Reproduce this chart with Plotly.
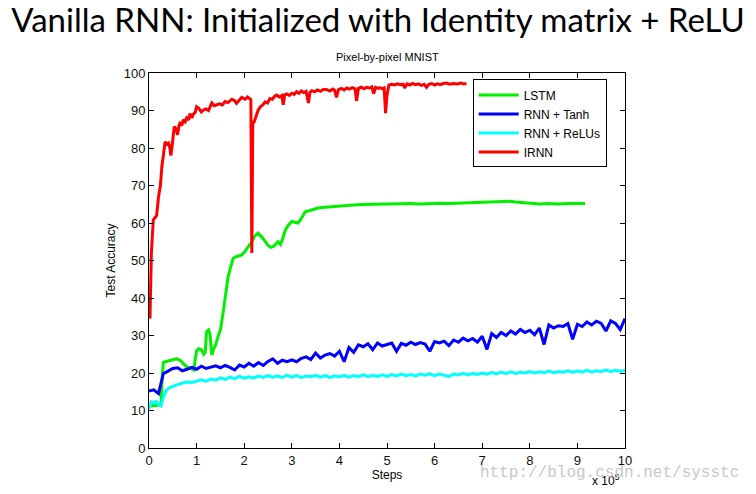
import plotly.graph_objects as go

# ---------------- data (steps in units of 1e5) ----------------
series_names = ["LSTM", "RNN + Tanh", "RNN + ReLUs", "IRNN"]
series_colors = ["#00f000", "#0000ff", "#00ffff", "#ff0000"]

x_ticks = [0, 1, 2, 3, 4, 5, 6, 7, 8, 9, 10]
y_ticks = [0, 10, 20, 30, 40, 50, 60, 70, 80, 90, 100]

lstm_x = [0.00, 0.05, 0.10, 0.15, 0.20, 0.25, 0.27, 0.30, 0.34, 0.40,
          0.46, 0.52, 0.58, 0.62, 0.67, 0.72, 0.79, 0.85, 0.90, 0.94,
          0.97, 1.00, 1.05, 1.10, 1.15, 1.18, 1.21, 1.25, 1.28, 1.32,
          1.36, 1.40, 1.45, 1.50, 1.55, 1.60, 1.66, 1.72, 1.77, 1.83,
          1.90, 1.95, 2.02, 2.08, 2.16, 2.22, 2.29, 2.35, 2.42, 2.50,
          2.56, 2.62, 2.68, 2.71, 2.76, 2.80, 2.86, 2.93, 3.00, 3.06,
          3.13, 3.20, 3.28, 3.35, 3.45, 3.55, 3.70, 3.85, 4.00, 4.12,
          4.30, 4.50, 4.70, 4.90, 5.10, 5.30, 5.50, 5.70, 5.90, 6.10,
          6.30, 6.50, 6.70, 6.90, 7.10, 7.30, 7.45, 7.58, 7.70, 7.85,
          8.00, 8.20, 8.40, 8.60, 8.80, 9.00, 9.16]
lstm_y = [11.5, 11.2, 11.4, 11.3, 11.5, 11.6, 17.0, 22.8, 23.0, 23.2,
          23.4, 23.5, 23.8, 23.6, 23.2, 22.5, 21.7, 21.4, 21.0, 20.8,
          23.5, 26.0, 26.5, 26.2, 25.0, 25.5, 31.0, 31.5, 30.5, 24.8,
          26.5, 27.5, 29.7, 31.5, 35.5, 40.4, 45.5, 48.5, 50.6, 51.0,
          51.3, 51.5, 52.5, 53.5, 55.0, 56.5, 57.3, 56.5, 55.5, 54.0,
          53.5, 53.8, 54.8, 55.0, 54.3, 55.5, 58.0, 59.5, 60.4, 60.2,
          60.0, 61.2, 63.0, 63.2, 63.6, 64.0, 64.2, 64.4, 64.5, 64.7,
          64.8, 64.9, 65.0, 65.1, 65.0, 65.1, 65.2, 65.1, 65.2, 65.3,
          65.2, 65.3, 65.4, 65.3, 65.4, 65.5, 65.6, 65.8, 65.6, 65.5,
          65.3, 65.1, 65.2, 65.1, 65.2, 65.3, 65.2]

tanh_x = [0.0, 0.1, 0.2, 0.3, 0.4, 0.5, 0.6, 0.7, 0.8, 0.9,
          1.0, 1.1, 1.2, 1.3, 1.4, 1.5, 1.6, 1.7, 1.8, 1.9,
          2.0, 2.1, 2.2, 2.3, 2.4, 2.5, 2.6, 2.7, 2.8, 2.9,
          3.0, 3.1, 3.2, 3.3, 3.4, 3.5, 3.6, 3.7, 3.8, 3.9,
          4.0, 4.1, 4.2, 4.3, 4.4, 4.5, 4.6, 4.7, 4.8, 4.9,
          5.0, 5.1, 5.2, 5.3, 5.4, 5.5, 5.6, 5.7, 5.8, 5.9,
          6.0, 6.1, 6.2, 6.3, 6.4, 6.5, 6.6, 6.7, 6.8, 6.9,
          7.0, 7.1, 7.2, 7.3, 7.4, 7.5, 7.6, 7.7, 7.8, 7.9,
          8.0, 8.1, 8.2, 8.3, 8.4, 8.5, 8.6, 8.7, 8.8, 8.9,
          9.0, 9.1, 9.2, 9.3, 9.4, 9.5, 9.6, 9.7, 9.8, 9.9,
          10.0]
tanh_y = [15.2, 15.5, 14.5, 19.8, 20.5, 21.2, 21.4, 20.6, 21.0, 21.5,
          21.0, 21.8, 21.2, 21.6, 21.9, 21.4, 22.0, 21.5, 20.8, 22.1,
          21.6, 22.6, 21.8, 22.8, 22.0, 23.1, 23.8, 22.6, 23.4, 23.0,
          23.5, 23.0, 23.9, 24.3, 23.6, 25.3, 24.0, 24.8, 25.2, 24.5,
          25.8, 23.0, 26.8, 25.5, 27.5, 27.0, 27.8, 26.2, 28.0, 27.2,
          27.6, 28.0, 25.8, 27.9, 27.4, 28.2, 27.6, 28.1, 27.7, 25.8,
          28.4, 28.0, 28.5, 27.3, 28.8, 28.2, 29.3, 28.6, 29.2, 28.2,
          29.8, 26.3, 30.5, 29.5, 30.8, 30.0, 31.2, 30.4, 31.6, 30.8,
          31.4, 30.2, 32.0, 27.6, 32.8, 32.0, 32.6, 32.4, 33.2, 29.0,
          33.0, 32.4, 33.6, 32.8, 33.8, 33.2, 31.2, 33.9, 33.2, 31.6,
          34.5]

relu_x = [0.00, 0.05, 0.10, 0.15, 0.20, 0.25, 0.30, 0.37, 0.45, 0.52,
          0.60, 0.70, 0.80, 0.90,
          1.0, 1.1, 1.2, 1.3, 1.4, 1.5, 1.6, 1.7, 1.8, 1.9,
          2.0, 2.1, 2.2, 2.3, 2.4, 2.5, 2.6, 2.7, 2.8, 2.9,
          3.0, 3.1, 3.2, 3.3, 3.4, 3.5, 3.6, 3.7, 3.8, 3.9,
          4.0, 4.1, 4.2, 4.3, 4.4, 4.5, 4.6, 4.7, 4.8, 4.9,
          5.0, 5.1, 5.2, 5.3, 5.4, 5.5, 5.6, 5.7, 5.8, 5.9,
          6.0, 6.1, 6.2, 6.3, 6.4, 6.5, 6.6, 6.7, 6.8, 6.9,
          7.0, 7.1, 7.2, 7.3, 7.4, 7.5, 7.6, 7.7, 7.8, 7.9,
          8.0, 8.1, 8.2, 8.3, 8.4, 8.5, 8.6, 8.7, 8.8, 8.9,
          9.0, 9.1, 9.2, 9.3, 9.4, 9.5, 9.6, 9.7, 9.8, 9.9,
          10.0]
relu_y = [10.5, 12.3, 12.0, 12.4, 11.5, 11.2, 13.5, 15.5, 16.2, 16.6,
          16.9, 17.3, 17.6, 17.5,
          17.9, 18.2, 17.8, 18.4, 18.1, 18.7, 18.3, 18.9, 18.5, 19.1,
          18.6, 19.0, 18.7, 19.2, 18.8, 19.3, 18.9, 19.2, 18.8, 19.4,
          18.9, 19.3, 18.8, 19.2, 19.0, 19.4, 18.9, 19.3, 18.8, 19.2,
          19.0, 19.4, 18.9, 19.3, 19.0, 19.5, 19.0, 19.4, 19.1, 19.5,
          19.1, 19.6, 19.2, 19.7, 19.3, 19.6, 19.2, 19.7, 19.4, 19.8,
          19.3, 19.7, 19.4, 19.1, 19.7, 19.5, 19.9, 19.5, 19.9, 19.6,
          20.0, 19.7, 20.1, 19.8, 20.2, 19.9, 20.3, 19.9, 20.2, 20.0,
          20.4, 20.0, 20.3, 20.1, 20.5, 20.1, 20.4, 20.2, 20.6, 20.2,
          20.5, 20.3, 20.7, 20.3, 20.6, 20.4, 20.8, 20.4, 20.7, 20.5,
          20.7]

irnn_x = [0.02, 0.05, 0.09, 0.13, 0.16, 0.20, 0.24, 0.27, 0.31, 0.34,
          0.37, 0.41, 0.44, 0.46, 0.49, 0.53, 0.57, 0.60, 0.63, 0.65,
          0.69, 0.72, 0.76, 0.79, 0.83, 0.86, 0.90, 0.93, 0.97, 1.00,
          1.05, 1.10, 1.15, 1.20, 1.25, 1.32, 1.37, 1.42, 1.48, 1.54,
          1.60, 1.66, 1.74, 1.80, 1.84, 1.90, 1.95, 2.02, 2.07, 2.11,
          2.14, 2.16, 2.18, 2.21, 2.25, 2.29, 2.34, 2.39, 2.44, 2.49,
          2.54, 2.59, 2.64, 2.68, 2.74, 2.79, 2.82, 2.85, 2.89, 2.95,
          3.00, 3.05, 3.10, 3.15, 3.20, 3.25, 3.30, 3.35, 3.38, 3.42,
          3.48, 3.54, 3.60, 3.66, 3.73, 3.80, 3.86, 3.90, 3.94, 3.98,
          4.04, 4.10, 4.15, 4.21, 4.27, 4.33, 4.36, 4.40, 4.46, 4.52,
          4.57, 4.63, 4.68, 4.72, 4.76, 4.81, 4.85, 4.90, 4.94, 4.97,
          5.00, 5.04, 5.10, 5.16, 5.22, 5.28, 5.34, 5.37, 5.42, 5.48,
          5.54, 5.60, 5.66, 5.72, 5.78, 5.83, 5.88, 5.94, 6.00, 6.06,
          6.12, 6.18, 6.25, 6.32, 6.40, 6.48, 6.55, 6.62, 6.67]
irnn_y = [34.5, 52.0, 60.8, 61.5, 62.0, 67.0, 70.0, 75.0, 79.0, 81.7,
          81.0, 81.3, 80.0, 78.0, 81.0, 85.7, 85.0, 83.5, 86.0, 86.6,
          86.0, 87.5, 87.0, 88.0, 87.5, 89.2, 88.0, 89.0, 89.5, 91.0,
          90.5, 89.6, 90.2, 90.4, 90.0, 92.0, 91.3, 91.6, 91.8, 91.5,
          92.4, 92.1, 93.0, 92.6, 91.9, 92.8, 93.5, 93.0, 93.6, 93.2,
          92.9, 52.0, 86.5, 87.0, 88.5, 90.0, 91.0, 91.5, 92.3, 92.0,
          93.2, 93.0, 93.8, 94.1, 93.6, 94.0, 91.5, 94.2, 94.4, 94.0,
          94.6, 94.3, 95.0, 94.6, 95.2, 94.8, 95.1, 92.0, 94.8, 95.3,
          95.0, 95.5, 95.1, 95.6, 95.6, 95.2, 95.7, 95.4, 93.5, 95.6,
          95.9, 95.5, 96.0, 95.7, 96.1, 95.8, 92.6, 95.9, 96.2, 95.8,
          96.2, 96.0, 96.3, 94.5, 96.2, 95.9, 96.1, 95.8, 96.0, 89.3,
          94.0, 96.8, 97.0, 96.8, 97.1, 96.9, 97.0, 96.0, 97.1, 96.8,
          97.2, 96.9, 97.1, 96.7, 97.0, 96.2, 97.0, 97.2, 96.8, 97.1,
          96.9, 97.2, 97.3, 97.0, 97.2, 97.1, 97.3, 97.1, 97.2]

# ---------------- figure ----------------
xs = [lstm_x, tanh_x, relu_x, irnn_x]
ys = [lstm_y, tanh_y, relu_y, irnn_y]

fig = go.Figure()
for name, color, x, y in zip(series_names, series_colors, xs, ys):
    fig.add_trace(go.Scatter(x=x, y=y, mode="lines", name=name,
                             line=dict(color=color, width=3)))

sans = "Liberation Sans, Arial, sans-serif"
axis_font = dict(family=sans, size=13, color="#111111")

fig.update_layout(
    width=756, height=494,
    margin=dict(l=149, r=131, t=73, b=46),
    paper_bgcolor="white", plot_bgcolor="white",
    showlegend=True,
    title=dict(text="Vanilla RNN: Initialized with Identity matrix + ReLU",
               xref="container", x=0.5, xanchor="center",
               yref="container", y=1 - 20 / 494, yanchor="middle",
               font=dict(family="Lato, sans-serif", size=33, color="black")),
    legend=dict(x=0.68, y=0.983, xanchor="left", yanchor="top",
                bordercolor="black", borderwidth=1, bgcolor="white",
                font=dict(family=sans, size=12, color="black"),
                tracegroupgap=0, itemwidth=40),
    xaxis=dict(range=[0, 10], tickvals=x_ticks, ticktext=[str(v) for v in x_ticks],
               showgrid=False, zeroline=False, showline=True, linecolor="black",
               linewidth=1, mirror="allticks", ticks="inside", ticklen=5,
               tickcolor="black", tickfont=axis_font, automargin=False,
               title=dict(text="Steps", font=dict(family=sans, size=12, color="black"),
                          standoff=2)),
    yaxis=dict(range=[0, 100], tickvals=y_ticks, ticktext=[str(v) for v in y_ticks],
               showgrid=False, zeroline=False, showline=True, linecolor="black",
               linewidth=1, mirror="allticks", ticks="inside", ticklen=5,
               tickcolor="black", tickfont=axis_font, automargin=False,
               title=dict(text="Test Accuracy", font=dict(family=sans, size=12, color="black"),
                          standoff=5)),
    annotations=[
        dict(text="Pixel-by-pixel MNIST", xref="paper", yref="paper", x=0.5, y=(448 - 57) / 375,
             xanchor="center", yanchor="middle", showarrow=False,
             font=dict(family=sans, size=11, color="black")),
        dict(text="x 10<sup>5</sup>", xref="paper", yref="paper", x=(606 - 149) / 476,
             y=(448 - 480) / 375, xanchor="center", yanchor="middle", showarrow=False,
             font=dict(family=sans, size=12, color="black")),
        dict(text="http://blog.csdn.net/sysstc", xref="paper", yref="paper",
             x=(609 - 149) / 476, y=(448 - 473) / 375, xanchor="center", yanchor="middle",
             showarrow=False,
             font=dict(family="Liberation Mono, Courier New, monospace", size=16, color="#c8c8c8")),
    ],
)

fig.write_html("out.html", config={"displayModeBar": False},
               post_script="document.body.style.margin='0px';")
